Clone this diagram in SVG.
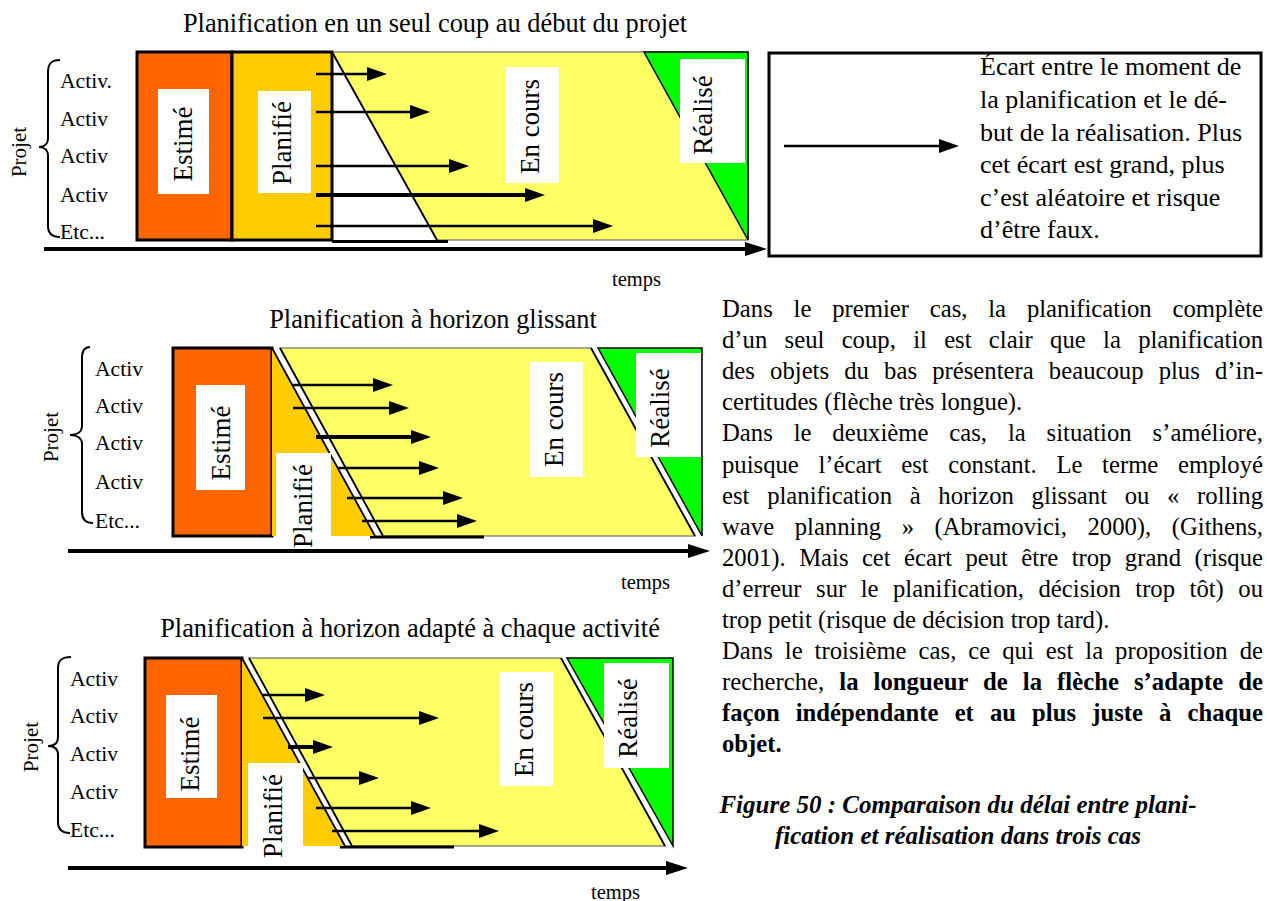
<svg xmlns="http://www.w3.org/2000/svg" width="1267" height="901" viewBox="0 0 1267 901">
<style>
text{font-family:"Liberation Serif","Times New Roman",serif;fill:#000}
.lbl{font-size:27px;text-anchor:middle}
.act{font-size:21.6px}
.ttl{font-size:26.4px;text-anchor:middle}
.tmp{font-size:20.5px}
.prj{font-size:21px;text-anchor:middle}
.body{font-size:24.7px}
.box{font-size:26px}
.cap{font-size:25px;font-weight:bold;font-style:italic;text-anchor:middle}
.est{fill:#FF6600;stroke:#000;stroke-width:3}
.pla{fill:#FFCC00}
.plaR{fill:#FFCC00;stroke:#000;stroke-width:3}
.yel{fill:#FFFF66;stroke:#555;stroke-width:1.2}
.grn{fill:#00FF00;stroke:#000;stroke-width:1.5}
.wb{fill:#fff}
.dg{stroke:#000;stroke-width:1.8;fill:none}
.thk{stroke:#000;stroke-width:3;fill:none}
.br{stroke:#000;stroke-width:2;fill:none}
.ar{stroke:#000;stroke-width:2.5;fill:none;marker-end:url(#ah)}
.ar4{stroke:#000;stroke-width:4;fill:none;marker-end:url(#ah)}
.ax{stroke:#000;stroke-width:4;fill:none;marker-end:url(#axh)}
</style>
<defs>
<marker id="ah" markerUnits="userSpaceOnUse" viewBox="0 0 20 14" markerWidth="20" markerHeight="14" refX="14" refY="7" orient="auto"><path d="M0,0 L20,7 L0,14 z" fill="#000"/></marker>
<marker id="axh" markerUnits="userSpaceOnUse" viewBox="0 0 22 14" markerWidth="22" markerHeight="14" refX="16" refY="7" orient="auto"><path d="M0,0 L22,7 L0,14 z" fill="#000"/></marker>
</defs>
<rect width="1267" height="901" fill="#fff"/>

<!-- Diagram 1 -->
<g id="diagram1">
<text class="ttl" x="435" y="32">Planification en un seul coup au début du projet</text>
<g id="d1-projet">
<text class="prj" transform="translate(26,152) rotate(-90)">Projet</text>
<path class="br" d="M60,60 C52,60 48,63 48,72 L48,138 C48,144 44,147 39,147 C44,147 48,150 48,156 L48,226 C48,233 52,237 60,237"/>
<text class="act" x="60" y="88">Activ.</text>
<text class="act" x="60" y="126">Activ</text>
<text class="act" x="60" y="163">Activ</text>
<text class="act" x="60" y="202">Activ</text>
<text class="act" x="60" y="239">Etc...</text>
</g>
<g id="d1-estime">
<rect class="est" x="137" y="52" width="95" height="188"/>
<rect class="wb" x="158" y="89" width="51" height="105"/>
<text class="lbl" transform="translate(192,144) rotate(-90)">Estimé</text>
</g>
<g id="d1-planifie">
<rect class="plaR" x="232" y="52" width="100" height="188"/>
<rect class="wb" x="258" y="91" width="53" height="102"/>
<text class="lbl" transform="translate(291,143) rotate(-90)">Planifié</text>
</g>
<g id="d1-encours">
<polygon class="yel" points="332,52 748,52 748,240 437,240"/>
<line class="dg" x1="332" y1="52" x2="437" y2="240"/>
<line class="thk" x1="332" y1="241.5" x2="448" y2="241.5"/>
<rect class="wb" x="506" y="67" width="53" height="116"/>
<text class="lbl" transform="translate(539,126.5) rotate(-90)">En cours</text>
</g>
<g id="d1-realise">
<polygon class="grn" points="644,52 748,52 748,240"/>
<rect class="wb" x="680" y="59" width="65" height="104"/>
<text class="lbl" transform="translate(712,115) rotate(-90)">Réalisé</text>
</g>
<g id="d1-connectors">
<line class="ar" x1="316" y1="74" x2="381" y2="74"/>
<line class="ar" x1="316" y1="112" x2="424" y2="112"/>
<line class="ar" x1="316" y1="166" x2="463" y2="166"/>
<line class="ar4" x1="316" y1="195" x2="539" y2="195"/>
<line class="ar" x1="316" y1="226" x2="607" y2="226"/>
<line class="ax" x1="44" y1="249" x2="761" y2="249"/>
</g>
<text class="tmp" x="612" y="286">temps</text>
</g>

<!-- Legend box -->
<g id="legend">
<rect x="769" y="53" width="492" height="203" fill="#fff" stroke="#000" stroke-width="3"/>
<line class="ar" x1="784" y1="146" x2="953" y2="146"/>
<text class="box" x="980" y="75">Écart entre le moment de</text>
<text class="box" x="980" y="108">la planification et le dé-</text>
<text class="box" x="980" y="141">but de la réalisation. Plus</text>
<text class="box" x="980" y="173">cet écart est grand, plus</text>
<text class="box" x="980" y="206">c’est aléatoire et risque</text>
<text class="box" x="980" y="238">d’être faux.</text>
</g>

<!-- Diagram 2 -->
<g id="diagram2">
<text class="ttl" x="433" y="328">Planification à horizon glissant</text>
<g id="d2-projet">
<text class="prj" transform="translate(58,437) rotate(-90)">Projet</text>
<path class="br" d="M90,347 C85,347 82,350 82,358 L82,426 C82,432 77,435 70,435 C77,435 82,438 82,444 L82,512 C82,519 86,523 93,523"/>
<text class="act" x="95" y="376">Activ</text>
<text class="act" x="95" y="413">Activ</text>
<text class="act" x="95" y="450">Activ</text>
<text class="act" x="95" y="489">Activ</text>
<text class="act" x="95" y="528">Etc...</text>
</g>
<g id="d2-estime">
<rect class="est" x="173" y="348" width="99" height="188"/>
<rect class="wb" x="196" y="385" width="49" height="105"/>
<text class="lbl" transform="translate(230,443) rotate(-90)">Estimé</text>
</g>
<g id="d2-encours">
<polygon class="yel" points="280,348 591,348 695,536 383,536"/>
<line class="dg" x1="280" y1="348" x2="383" y2="536"/>
<line class="dg" x1="591" y1="348" x2="695" y2="536"/>
<line class="thk" x1="370" y1="537" x2="484" y2="537"/>
<rect class="wb" x="530" y="362" width="53" height="115"/>
<text class="lbl" transform="translate(563,419.5) rotate(-90)">En cours</text>
</g>
<g id="d2-planifie">
<polygon class="pla" points="272,348 272,536 375,536"/>
<line class="dg" x1="272" y1="348" x2="375" y2="536"/>
<rect class="wb" x="276" y="453" width="55" height="93"/>
<text class="lbl" transform="translate(312,506) rotate(-90)">Planifié</text>
</g>
<g id="d2-realise">
<polygon class="grn" points="598,348 702,348 702,536"/>
<rect class="wb" x="636" y="353" width="65" height="104"/>
<text class="lbl" transform="translate(669,408) rotate(-90)">Réalisé</text>
</g>
<g id="d2-connectors">
<line class="ar" x1="292" y1="385" x2="387" y2="385"/>
<line class="ar" x1="293" y1="408" x2="403" y2="408"/>
<line class="ar4" x1="316" y1="437" x2="425" y2="437"/>
<line class="ar" x1="338" y1="468" x2="433" y2="468"/>
<line class="ar" x1="347" y1="498" x2="457" y2="498"/>
<line class="ar" x1="362" y1="521" x2="471" y2="521"/>
<line class="ax" x1="68" y1="551" x2="704" y2="551"/>
</g>
<text class="tmp" x="621" y="589">temps</text>
</g>

<!-- Diagram 3 -->
<g id="diagram3">
<text class="ttl" x="410" y="637">Planification à horizon adapté à chaque activité</text>
<g id="d3-projet">
<text class="prj" transform="translate(38,747) rotate(-90)">Projet</text>
<path class="br" d="M71,657 C62,657 58,660 58,668 L58,737 C58,743 54,746 48,746 C54,746 58,749 58,755 L58,822 C58,829 62,833 70,833"/>
<text class="act" x="70" y="686">Activ</text>
<text class="act" x="70" y="723">Activ</text>
<text class="act" x="70" y="761">Activ</text>
<text class="act" x="70" y="799">Activ</text>
<text class="act" x="70" y="837">Etc...</text>
</g>
<g id="d3-estime">
<rect class="est" x="145" y="658" width="97" height="189"/>
<rect class="wb" x="166" y="695" width="51" height="103"/>
<text class="lbl" transform="translate(199,754) rotate(-90)">Estimé</text>
</g>
<g id="d3-encours">
<polygon class="yel" points="249,658 561,658 665,846 352,846"/>
<line class="dg" x1="249" y1="658" x2="352" y2="846"/>
<line class="dg" x1="561" y1="658" x2="665" y2="846"/>
<line class="thk" x1="340" y1="847" x2="454" y2="847"/>
<rect class="wb" x="500" y="672" width="53" height="114"/>
<text class="lbl" transform="translate(533,729.5) rotate(-90)">En cours</text>
</g>
<g id="d3-planifie">
<polygon class="pla" points="242,658 242,846 345,846"/>
<line class="dg" x1="242" y1="658" x2="345" y2="846"/>
<rect class="wb" x="248" y="763" width="55" height="94"/>
<text class="lbl" transform="translate(282,816) rotate(-90)">Planifié</text>
</g>
<g id="d3-realise">
<polygon class="grn" points="567,658 673,658 673,846"/>
<rect class="wb" x="604" y="663" width="65" height="105"/>
<text class="lbl" transform="translate(637,718) rotate(-90)">Réalisé</text>
</g>
<g id="d3-connectors">
<line class="ar" x1="262" y1="695" x2="319" y2="695"/>
<line class="ar" x1="263" y1="718" x2="433" y2="718"/>
<line class="ar4" x1="288" y1="747" x2="327" y2="747"/>
<line class="ar" x1="307" y1="778" x2="373" y2="778"/>
<line class="ar" x1="316" y1="808" x2="425" y2="808"/>
<line class="ar" x1="332" y1="831" x2="493" y2="831"/>
<line class="ax" x1="68" y1="868" x2="682" y2="868"/>
</g>
<text class="tmp" x="591" y="899">temps</text>
</g>

<!-- Body text -->
<g id="body-text">
<text class="body" x="722" y="317" word-spacing="14.6" textLength="541" lengthAdjust="spacing">Dans le premier cas, la planification complète</text>
<text class="body" x="722" y="348" word-spacing="11.1" textLength="541" lengthAdjust="spacing">d’un seul coup, il est clair que la planification</text>
<text class="body" x="722" y="379" word-spacing="9" textLength="541" lengthAdjust="spacing">des objets du bas présentera beaucoup plus d’in-</text>
<text class="body" x="722" y="410">certitudes (flèche très longue).</text>
<text class="body" x="722" y="441" word-spacing="14.7" textLength="541" lengthAdjust="spacing">Dans le deuxième cas, la situation s’améliore,</text>
<text class="body" x="722" y="473" word-spacing="13.5" textLength="541" lengthAdjust="spacing">puisque l’écart est constant. Le terme employé</text>
<text class="body" x="722" y="504" word-spacing="11.5" textLength="541" lengthAdjust="spacing">est planification à horizon glissant ou « rolling</text>
<text class="body" x="722" y="535" word-spacing="14.4" textLength="541" lengthAdjust="spacing">wave planning » (Abramovici, 2000), (Githens,</text>
<text class="body" x="722" y="566" word-spacing="7.2" textLength="541" lengthAdjust="spacing">2001). Mais cet écart peut être trop grand (risque</text>
<text class="body" x="722" y="597" word-spacing="8.3" textLength="541" lengthAdjust="spacing">d’erreur sur le planification, décision trop tôt) ou</text>
<text class="body" x="722" y="628">trop petit (risque de décision trop tard).</text>
<text class="body" x="722" y="659" word-spacing="5.8" textLength="541" lengthAdjust="spacing">Dans le troisième cas, ce qui est la proposition de</text>
<text class="body" x="722" y="690" word-spacing="8.9" textLength="541" lengthAdjust="spacing">recherche, <tspan font-weight="bold">la longueur de la flèche s’adapte de</tspan></text>
<text class="body" x="722" y="721" font-weight="bold" word-spacing="9.9" textLength="541" lengthAdjust="spacing">façon indépendante et au plus juste à chaque</text>
<text class="body" x="722" y="752" font-weight="bold">objet.</text>
</g>

<g id="caption">
<text class="cap" x="958" y="813">Figure 50 : Comparaison du délai entre plani-</text>
<text class="cap" x="958" y="844">fication et réalisation dans trois cas</text>
</g>
</svg>
